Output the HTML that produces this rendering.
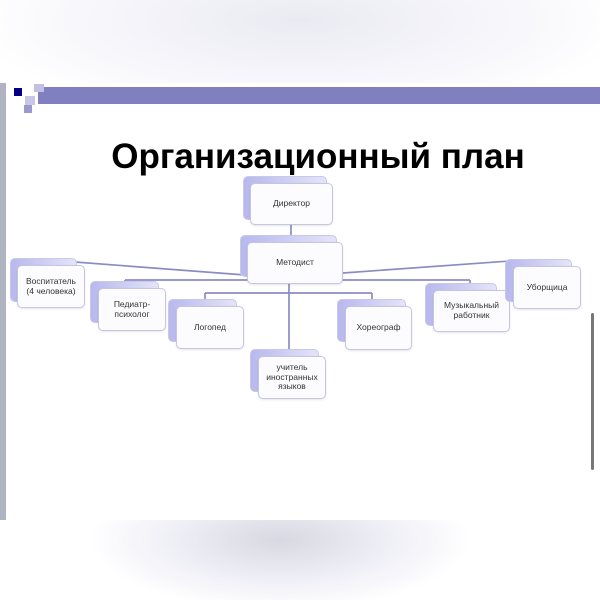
<!DOCTYPE html>
<html><head><meta charset="utf-8"><style>
body{margin:0;width:600px;height:600px;overflow:hidden;background:#fff;position:relative;font-family:"Liberation Sans",sans-serif}
.a{position:absolute}
.bk{position:absolute;border-radius:5px;background:linear-gradient(90deg,#b8b8ee,#e4e4f8);border:1px solid #c8c8e8}
.fr{position:absolute;border-radius:5px;background:#fcfcff;border:1.5px solid #c6c6e2;display:flex;align-items:center;justify-content:center;text-align:center;font-size:8.5px;color:#333;line-height:1.15;box-shadow:0 1px 2px rgba(0,0,0,.1)}
</style></head><body>
<div class="a" style="left:0;top:0;width:600px;height:83px;background:radial-gradient(ellipse 330px 100px at 300px 20px,#eaeaf2,#f6f6fb 60%,#fff)"></div>
<div class="a" style="left:0;top:520px;width:600px;height:80px;background:radial-gradient(ellipse 190px 70px at 280px 20px,#d8d8e2,#eeeef6 55%,#fff)"></div>
<div class="a" style="left:0;top:83px;width:6px;height:437px;background:#b0b4c0"></div>
<div class="a" style="left:38px;top:87px;width:562px;height:17px;background:#8080c0"></div>
<div class="a" style="left:14px;top:88px;width:8px;height:8px;background:#000080"></div>
<div class="a" style="left:34px;top:84px;width:10px;height:8px;background:#c0c0e0"></div>
<div class="a" style="left:25px;top:96px;width:10px;height:9px;background:#c8c8e6"></div>
<div class="a" style="left:24px;top:105px;width:8px;height:8px;background:#9a9ad0"></div>
<div class="a" style="left:591px;top:313px;width:3px;height:157px;background:#777;border-radius:2px"></div>
<div class="a" style="left:0;top:137px;width:600px;text-align:center;font-weight:bold;font-size:35px;color:#000;padding-left:36px;box-sizing:border-box">Организационный план</div>
<svg class="a" style="left:0;top:0" width="600" height="600">
<g stroke="#8c8cc4" stroke-width="1.7" fill="none">
<path d="M291 224 V238"/>
<path d="M75 262 L245 275"/>
<path d="M343 273 L510 261"/>
<path d="M125 280 H470 M125 280 V287 M470 280 V290"/>
<path d="M205 293 H372 M205 293 V302 M372 293 V302"/>
<path d="M289 284 V352"/>
</g></svg>
<div class="bk" style="left:243px;top:176px;width:82px;height:42px"></div>
<div class="fr" style="left:250px;top:183px;width:81px;height:40px">Директор</div>
<div class="bk" style="left:240px;top:235px;width:95px;height:40px"></div>
<div class="fr" style="left:247px;top:242px;width:94px;height:40px">Методист</div>
<div class="bk" style="left:10px;top:258px;width:65px;height:42px"></div>
<div class="fr" style="left:17px;top:265px;width:66px;height:41px">Воспитатель<br>(4 человека)</div>
<div class="bk" style="left:90px;top:281px;width:67px;height:40px"></div>
<div class="fr" style="left:98px;top:288px;width:66px;height:41px">Педиатр-<br>психолог</div>
<div class="bk" style="left:168px;top:299px;width:67px;height:41px"></div>
<div class="fr" style="left:176px;top:306px;width:66px;height:41px">Логопед</div>
<div class="bk" style="left:250px;top:349px;width:67px;height:41px"></div>
<div class="fr" style="left:258px;top:356px;width:66px;height:41px">учитель<br>иностранных<br>языков</div>
<div class="bk" style="left:337px;top:299px;width:67px;height:41px"></div>
<div class="fr" style="left:345px;top:306px;width:65px;height:42px">Хореограф</div>
<div class="bk" style="left:425px;top:283px;width:70px;height:41px"></div>
<div class="fr" style="left:433px;top:290px;width:75px;height:40px">Музыкальный<br>работник</div>
<div class="bk" style="left:505px;top:259px;width:65px;height:41px"></div>
<div class="fr" style="left:513px;top:266px;width:66px;height:41px">Уборщица</div>
</body></html>
